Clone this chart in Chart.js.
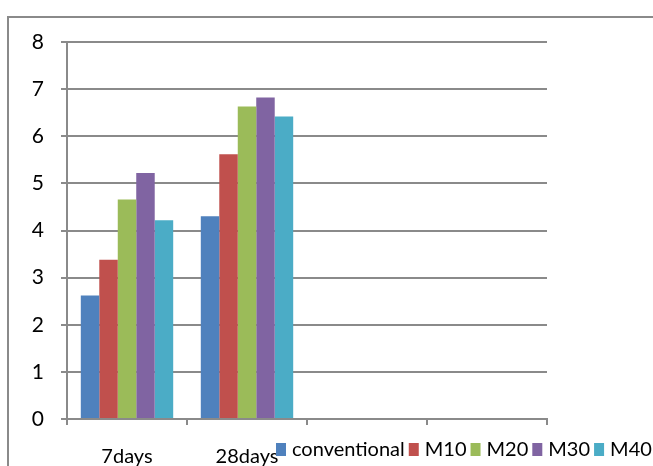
<!DOCTYPE html>
<html><head><meta charset="utf-8">
<script src="https://cdn.jsdelivr.net/npm/chart.js@4"></script>
<style>html,body{margin:0;padding:0;background:#fff;overflow:hidden}#wrap{width:653px;height:466px;position:relative}</style>
</head><body><div id="wrap"><canvas id="c" width="653" height="466"></canvas></div>
<script>
const categories = ['7days', '28days', '', ''];
const seriesNames = ['conventional', 'M10', 'M20', 'M30', 'M40'];
const conventional = [2.62, 4.30];
const m10 = [3.38, 5.62];
const m20 = [4.66, 6.63];
const m30 = [5.22, 6.82];
const m40 = [4.22, 6.42];
const yTicks = [0, 1, 2, 3, 4, 5, 6, 7, 8];
const colors = ['#4F81BD', '#C0504D', '#9BBB59', '#8064A2', '#4BACC6'];
const values = [conventional, m10, m20, m30, m40];
const FONT = 'Lato, "Open Sans", sans-serif';

const frame = {
  id: 'frame',
  beforeDraw(chart) {
    const ctx = chart.ctx;
    ctx.save();
    ctx.fillStyle = '#fff';
    ctx.fillRect(0, 0, chart.width, chart.height);
    ctx.strokeStyle = '#8a8a8a';
    ctx.lineWidth = 2;
    ctx.strokeRect(8, 17, 700, 500);
    ctx.restore();
  }
};
const customLegend = {
  id: 'customLegend',
  afterDraw(chart) {
    const ctx = chart.ctx;
    ctx.save();
    ctx.font = '20px ' + FONT;
    ctx.textBaseline = 'middle';
    let x = 276;
    const y = 450;
    chart.data.datasets.forEach(ds => {
      ctx.fillStyle = ds.backgroundColor;
      ctx.fillRect(x, y - 7, 10, 13);
      x += 16;
      ctx.fillStyle = '#000';
      ctx.fillText(ds.label, x, y);
      x += ctx.measureText(ds.label).width + 4;
    });
    ctx.restore();
  }
};

new Chart(document.getElementById('c'), {
  type: 'bar',
  data: {
    labels: categories,
    datasets: seriesNames.map((n, i) => ({
      label: n, data: values[i], backgroundColor: colors[i],
      categoryPercentage: 0.77, barPercentage: 1.0, borderWidth: 0
    }))
  },
  options: {
    responsive: false, animation: false,
    layout: { padding: { top: 42, left: 0, right: 106, bottom: 0 } },
    plugins: { legend: { display: false }, tooltip: { enabled: false } },
    scales: {
      x: {
        offset: true,
        grid: { drawOnChartArea: false, color: '#8a8a8a', lineWidth: 2, tickLength: 6, offset: true },
        border: { color: '#8a8a8a', width: 2 },
        ticks: { color: '#000', font: { family: FONT, size: 20 }, padding: 20, maxRotation: 0 },
        afterFit(s) { s.height = 47; }
      },
      y: {
        min: 0, max: 8,
        afterBuildTicks(s) { s.ticks = yTicks.map(v => ({ value: v })); },
        grid: { color: '#8a8a8a', lineWidth: 2, tickLength: 6 },
        border: { color: '#8a8a8a', width: 2 },
        ticks: { color: '#000', font: { family: FONT, size: 21 }, padding: 17 },
        afterFit(s) { s.width = 67; }
      }
    }
  },
  plugins: [frame, customLegend]
});
</script></body></html>
